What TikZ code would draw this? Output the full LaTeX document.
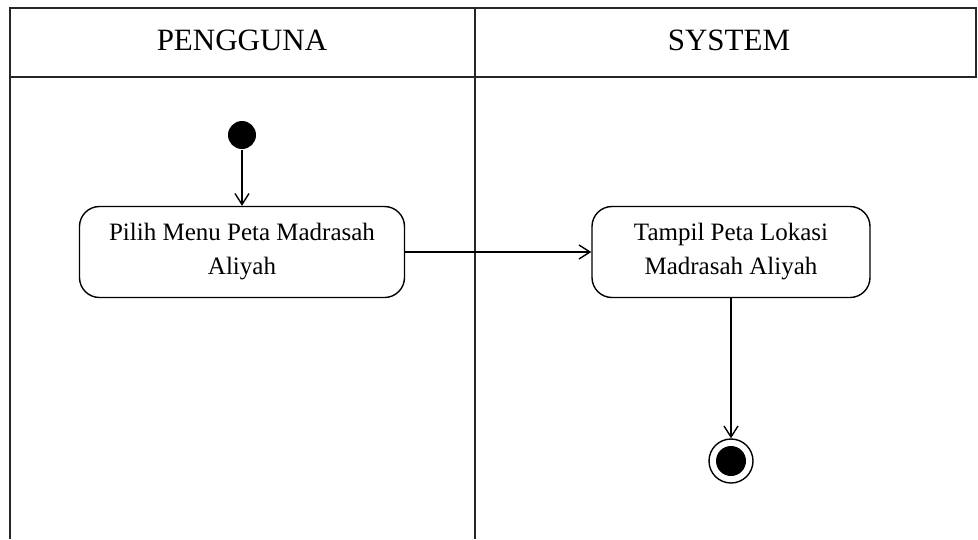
\documentclass[tikz,border=0pt]{standalone}
\usepackage{fontspec}
\setmainfont{Liberation Serif}
\usetikzlibrary{arrows.meta}

\begin{document}
\begin{tikzpicture}[x=1pt,y=-1pt,->,>={Straight Barb[length=11pt,width=14pt]},line width=1.4pt,
    act node/.style={draw,rounded corners=20pt,minimum height=91pt,align=center,font=\fontsize{25}{34}\selectfont,->},
    lane title/.style={font=\fontsize{31}{36}\selectfont}]
    \useasboundingbox (0,0) rectangle (978,539);

    % swimlanes
    \draw[-,line width=2.4pt,black!85] (10,539) -- (10,8) -- (976,8) -- (976,77) -- (10,77);
    \draw[-,line width=2.4pt,black!85] (475,8) -- (475,539);
    \node[lane title] (pengguna) at (242,40) {PENGGUNA};
    \node[lane title] (system) at (729,40) {SYSTEM};

    % activities
    \node[circle,fill,inner sep=0pt,minimum size=28pt] (start) at (242,135) {};
    \node[act node,minimum width=325pt] (pilih) [below of=start,node distance=117pt] {Pilih Menu Peta Madrasah\\Aliyah};
    \node[act node,minimum width=278pt] (tampil) [right of=pilih,node distance=489pt] {Tampil Peta Lokasi\\Madrasah Aliyah};
    \node[circle,draw,inner sep=0pt,minimum size=44pt,line width=1.4pt] (end) [below of=tampil,node distance=209pt] {};
    \node[circle,fill,inner sep=0pt,minimum size=30pt] (endin) at (end) {};

    \path
        (start) edge (pilih)
        (pilih) edge (tampil)
        (tampil) edge (end)
        ;
\end{tikzpicture}
\end{document}
